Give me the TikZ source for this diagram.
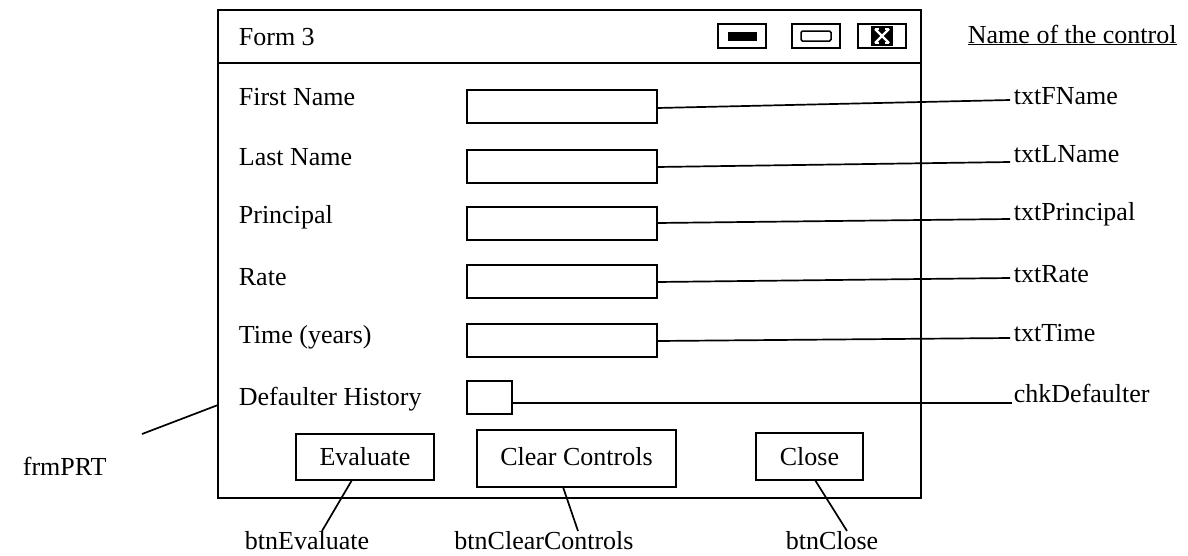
\documentclass[tikz,border=0pt]{standalone}
\usepackage{fontspec}
\setmainfont{Liberation Serif}
\begin{document}
\begin{tikzpicture}[x=1pt,y=-1pt, line width=1.8pt,
  txt/.style={font=\fontsize{26}{28}\selectfont, inner sep=0pt},
  lbl/.style={txt, anchor=west},
  tbox/.style={draw, minimum width=190pt, minimum height=33pt, inner sep=0pt, outer sep=0pt, anchor=north west},
  btn/.style={draw, txt, inner sep=0pt, outer sep=0pt},
  icon/.style={draw, minimum width=48pt, minimum height=24pt, inner sep=0pt, outer sep=0pt},
  conn/.style={line width=1.7pt}]
\useasboundingbox (0,0) rectangle (1188,555);

% window
\node[draw, minimum width=703pt, minimum height=488pt, anchor=north west, inner sep=0pt, outer sep=0pt] (frm) at (218,10) {};
\coordinate (tbl) at (218,63);
\coordinate (tbr) at (921,63);
\draw (tbl) -- (tbr);
\node[lbl] (title) at (238,37) {Form 3};

% title bar icons
\node[icon] (imin) at (742,36) {};
\node[fill=black, minimum width=29pt, minimum height=9pt, inner sep=0pt] (iminbar) at (742,36) {};
\node[icon] (imax) at (816,36) {};
\node[draw, rounded corners=1.5pt, minimum width=30pt, minimum height=10pt, inner sep=0pt, line width=1.5pt] (imaxbar) at (816,36) {};
\node[icon] (icls) at (882,36) {};
\node[fill=black, minimum width=22pt, minimum height=20pt, inner sep=0pt] (iclsbg) at (882,36) {};
\draw[white, line width=2.2pt] (875,29) -- (889,43) (889,29) -- (875,43);
\draw[white, line width=1.4pt] (875,29) -- (879,29) (885,29) -- (889,29) (875,43) -- (879,43) (885,43) -- (889,43);

\node[lbl] (head) at (967,35) {\underline{Name of the control}};

% field labels
\node[lbl] (l1) at (238,97) {First Name};
\node[lbl] (l2) at (238,157) {Last Name};
\node[lbl] (l3) at (238,217) {Principal};
\node[lbl] (l4) at (238,277) {Rate};
\node[lbl] (l5) at (238,337) {Time (years)};
\node[lbl] (l6) at (238,399) {Defaulter History};

% text boxes
\node[tbox] (b1) at (467,90) {};
\node[tbox] (b2) at (467,150) {};
\node[tbox] (b3) at (467,207) {};
\node[tbox] (b4) at (467,265) {};
\node[tbox] (b5) at (467,324) {};
\node[tbox, minimum width=45pt] (b6) at (467,381) {};

% control names on the right
\node[lbl] (n1) at (1013,96) {txtFName};
\node[lbl] (n2) at (1013,154) {txtLName};
\node[lbl] (n3) at (1013,214) {txtPrincipal};
\node[lbl] (n4) at (1013,274) {txtRate};
\node[lbl] (n5) at (1013,333) {txtTime};
\node[lbl] (n6) at (1013,393) {chkDefaulter};

\coordinate (s1) at (657,108); \coordinate (e1) at (1010,100);
\coordinate (s2) at (657,167); \coordinate (e2) at (1010,162);
\coordinate (s3) at (657,223); \coordinate (e3) at (1010,219);
\coordinate (s4) at (657,282); \coordinate (e4) at (1010,278);
\coordinate (s5) at (657,341); \coordinate (e5) at (1010,338);
\coordinate (s6) at (512,403); \coordinate (e6) at (1012,403);
\draw[conn] (s1) -- (e1);
\draw[conn] (s2) -- (e2);
\draw[conn] (s3) -- (e3);
\draw[conn] (s4) -- (e4);
\draw[conn] (s5) -- (e5);
\draw[conn] (s6) -- (e6);

% buttons
\node[btn, minimum width=138pt, minimum height=46pt] (bev) at (365,457) {Evaluate};
\node[btn, minimum width=199pt, minimum height=57pt] (bcl) at (576.5,458.5) {\raisebox{5pt}{Clear Controls}};
\node[btn, minimum width=107pt, minimum height=47pt] (bcs) at (809.5,456.5) {Close};

% bottom names
\node[txt] (nev) at (307,541) {btnEvaluate};
\node[txt] (ncl) at (544,541) {btnClearControls};
\node[txt] (ncs) at (832,541) {btnClose};

\coordinate (ev1) at (352,480); \coordinate (ev2) at (322,531);
\coordinate (cl1) at (563,487); \coordinate (cl2) at (578,531);
\coordinate (cs1) at (815,480); \coordinate (cs2) at (847,531);
\draw[conn] (ev1) -- (ev2);
\draw[conn] (cl1) -- (cl2);
\draw[conn] (cs1) -- (cs2);

% form name
\node[lbl] (nfrm) at (22,466) {frmPRT};
\coordinate (f1) at (142,434);
\coordinate (f2) at (218,405);
\draw[conn] (f1) -- (f2);
\end{tikzpicture}
\end{document}
